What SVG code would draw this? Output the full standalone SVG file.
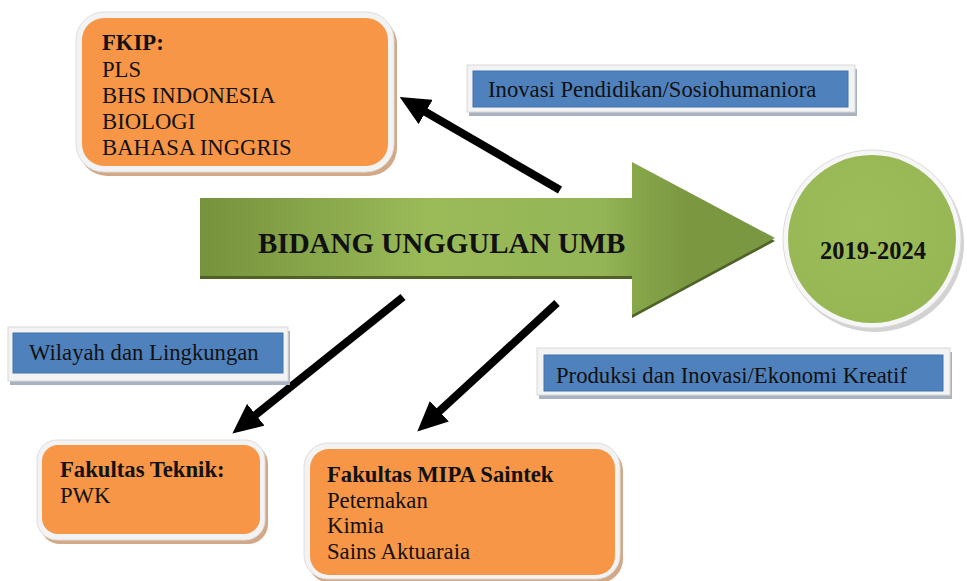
<svg xmlns="http://www.w3.org/2000/svg" width="967" height="581" viewBox="0 0 967 581">
<defs>
<style>
.t{font-family:"Liberation Serif","Times New Roman",serif;fill:#111;font-size:22.7px}
.b{font-weight:bold}
.osh{fill:#d2a886}
.oout{fill:#f3f3f3;stroke:#dedede;stroke-width:1}
.oin{fill:#f79646}
.bsh{fill:#a9b2bf}
.bout{fill:#f3f3f3;stroke:#d9d9d9;stroke-width:1}
.bin{fill:#4f81bd;stroke:#4174ad;stroke-width:1}
.conn{stroke:#000;stroke-width:8;fill:none;marker-end:url(#ah)}
</style>
<marker id="ah" viewBox="0 0 30 28" refX="10" refY="14" markerWidth="30" markerHeight="28" markerUnits="userSpaceOnUse" orient="auto">
<path d="M0,0 L30,14 L0,28 Z" fill="#000"/>
</marker>
<linearGradient id="ag" x1="200" y1="0" x2="775" y2="0" gradientUnits="userSpaceOnUse">
<stop offset="0" stop-color="#76923c"/>
<stop offset="0.4" stop-color="#9bbb59"/>
<stop offset="0.7" stop-color="#94b556"/>
<stop offset="0.76" stop-color="#86a64a"/>
<stop offset="0.85" stop-color="#7b9841"/>
<stop offset="1" stop-color="#7a9741"/>
</linearGradient>
<radialGradient id="cg" cx="0.45" cy="0.4" r="0.6">
<stop offset="0" stop-color="#9dbd5b"/>
<stop offset="1" stop-color="#97b755"/>
</radialGradient>
</defs>

<g id="connectors">
<line class="conn" x1="560" y1="190" x2="417" y2="107"/>
<line class="conn" x1="403" y1="297" x2="248" y2="421"/>
<line class="conn" x1="557" y1="303" x2="432" y2="418"/>
</g>

<g id="fkip">
<rect class="osh" x="79" y="16" width="318" height="160" rx="28"/>
<rect class="oout" x="76" y="12" width="318" height="160" rx="28"/>
<rect class="oin" x="82" y="18" width="306" height="148" rx="22"/>
<text class="t" x="102" y="50"><tspan class="b">FKIP:</tspan><tspan x="102" y="77">PLS</tspan><tspan x="102" y="103">BHS INDONESIA</tspan><tspan x="102" y="129">BIOLOGI</tspan><tspan x="102" y="155">BAHASA INGGRIS</tspan></text>
</g>

<g id="inovasi">
<rect class="bsh" x="469" y="69" width="388" height="47"/>
<rect class="bout" x="467" y="65" width="388" height="47"/>
<rect class="bin" x="473" y="71" width="375" height="36"/>
<text class="t" x="488" y="97">Inovasi Pendidikan/Sosiohumaniora</text>
</g>

<g id="bidang">
<path d="M200,201 L632,201 L632,165 L775,241 L632,318 L632,279 L200,279 Z" fill="#4f6228"/>
<path d="M200,198 L632,198 L632,162 L775,238 L632,315 L632,276 L200,276 Z" fill="url(#ag)"/>
<text class="t b" x="258" y="253" style="font-size:29px">BIDANG UNGGULAN UMB</text>
</g>

<g id="periode">
<circle cx="875" cy="243" r="89" fill="#c7c7c7" opacity="0.8"/>
<circle cx="872" cy="239" r="89" fill="#f6f6f6" stroke="#dcdcdc" stroke-width="1"/>
<circle cx="872" cy="239" r="84" fill="url(#cg)"/>
<text class="t b" x="873" y="259" text-anchor="middle" style="font-size:24.5px">2019-2024</text>
</g>

<g id="wilayah">
<rect class="bsh" x="10" y="331" width="280" height="54"/>
<rect class="bout" x="8" y="327" width="280" height="54"/>
<rect class="bin" x="13" y="333" width="270" height="40"/>
<text class="t" x="29" y="360">Wilayah dan Lingkungan</text>
</g>

<g id="produksi">
<rect class="bsh" x="539" y="352" width="413" height="47"/>
<rect class="bout" x="537" y="348" width="413" height="47"/>
<rect class="bin" x="544" y="355" width="399" height="36"/>
<text class="t" x="556" y="383">Produksi dan Inovasi/Ekonomi Kreatif</text>
</g>

<g id="teknik">
<rect class="osh" x="40" y="444" width="228" height="100" rx="20"/>
<rect class="oout" x="37" y="440" width="228" height="100" rx="20"/>
<rect class="oin" x="42" y="445" width="218" height="89" rx="16"/>
<text class="t" x="60" y="477"><tspan class="b">Fakultas Teknik:</tspan><tspan x="60" y="503">PWK</tspan></text>
</g>

<g id="mipa">
<rect class="osh" x="307" y="447" width="316" height="136" rx="24"/>
<rect class="oout" x="304" y="443" width="316" height="136" rx="24"/>
<rect class="oin" x="310" y="449" width="305" height="126" rx="19"/>
<text class="t" x="327" y="482"><tspan class="b">Fakultas MIPA Saintek</tspan><tspan x="327" y="508">Peternakan</tspan><tspan x="327" y="533">Kimia</tspan><tspan x="327" y="559">Sains Aktuaraia</tspan></text>
</g>
</svg>
